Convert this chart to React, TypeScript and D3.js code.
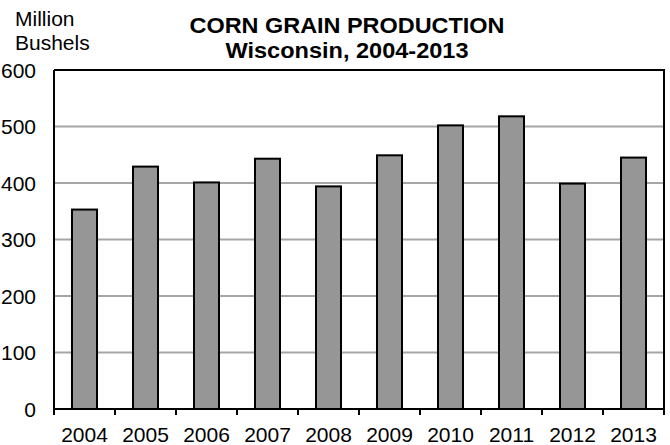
import React, { useEffect, useRef } from "react";
import * as d3 from "d3";

const years = ["2004", "2005", "2006", "2007", "2008", "2009", "2010", "2011", "2012", "2013"];
const production = [353, 429, 401, 443, 394, 449, 502, 518, 399, 445];
const yTicks = [0, 100, 200, 300, 400, 500, 600];
const titleLines = ["CORN GRAIN PRODUCTION", "Wisconsin, 2004-2013"];
const unitLines = ["Million", "Bushels"];

const W = 670;
const H = 445;
const M = { left: 54, right: 6, top: 70, bottom: 36 };

export default function App() {
  const ref = useRef<SVGSVGElement>(null);
  useEffect(() => {
    const svg = d3.select(ref.current);
    svg.selectAll("*").remove();
    const font = "'Liberation Sans', Arial, sans-serif";
    const x = d3.scaleBand<string>().domain(years).range([M.left, W - M.right]).paddingInner(0.59).paddingOuter(0.295);
    const xb = d3.scaleBand<string>().domain(years).range([M.left, W - M.right]);
    const y = d3.scaleLinear().domain([0, 600]).range([H - M.bottom, M.top]);

    // gridlines
    svg.append("g").selectAll("line").data(yTicks.filter((t) => t > 0 && t < 600)).join("line")
      .attr("x1", M.left).attr("x2", W - M.right)
      .attr("y1", (d) => y(d)).attr("y2", (d) => y(d))
      .attr("stroke", "#a6a6a6").attr("stroke-width", 2);

    // plot border top/right
    svg.append("path")
      .attr("d", `M${M.left},${y(600)}H${W - M.right}V${y(0)}`)
      .attr("fill", "none").attr("stroke", "#000").attr("stroke-width", 2);

    // bars
    svg.append("g").selectAll("rect").data(years).join("rect")
      .attr("x", (d) => x(d)!).attr("width", x.bandwidth())
      .attr("y", (d, i) => y(production[i])).attr("height", (d, i) => y(0) - y(production[i]))
      .attr("fill", "#969696").attr("stroke", "#000").attr("stroke-width", 2);

    // axes
    svg.append("line").attr("x1", M.left).attr("x2", M.left).attr("y1", y(600)).attr("y2", y(0))
      .attr("stroke", "#000").attr("stroke-width", 2);
    svg.append("line").attr("x1", M.left).attr("x2", W - M.right).attr("y1", y(0)).attr("y2", y(0))
      .attr("stroke", "#000").attr("stroke-width", 2);
    const bounds = years.map((d) => xb(d)!).concat([W - M.right]);
    svg.append("g").selectAll("line").data(bounds).join("line")
      .attr("x1", (d) => d).attr("x2", (d) => d).attr("y1", y(0)).attr("y2", y(0) + 6)
      .attr("stroke", "#000").attr("stroke-width", 2);

    // y labels
    svg.append("g").selectAll("text").data(yTicks).join("text")
      .attr("x", 36).attr("y", (d) => y(d) + 7.5).attr("text-anchor", "end")
      .attr("font-family", font).attr("font-size", 21).text((d) => d);

    // x labels
    svg.append("g").selectAll("text").data(years).join("text")
      .attr("x", (d) => xb(d)! + xb.bandwidth() / 2).attr("y", 442).attr("text-anchor", "middle")
      .attr("font-family", font).attr("font-size", 21).text((d) => d);

    // unit
    svg.append("g").selectAll("text").data(unitLines).join("text")
      .attr("x", 15).attr("y", (d, i) => 26 + i * 24)
      .attr("font-family", font).attr("font-size", 21).text((d) => d);

    // title
    const titleWidths = [315, 243];
    svg.append("g").selectAll("text").data(titleLines).join("text")
      .attr("x", 347).attr("y", (d, i) => 33 + i * 25).attr("text-anchor", "middle")
      .attr("textLength", (d, i) => titleWidths[i]).attr("lengthAdjust", "spacingAndGlyphs")
      .attr("font-family", font).attr("font-weight", "bold").attr("font-size", 22).text((d) => d);
  }, []);
  return (
    <svg ref={ref} width={W} height={H} style={{ position: "absolute", left: 0, top: 0, background: "#fff" }} />
  );
}
